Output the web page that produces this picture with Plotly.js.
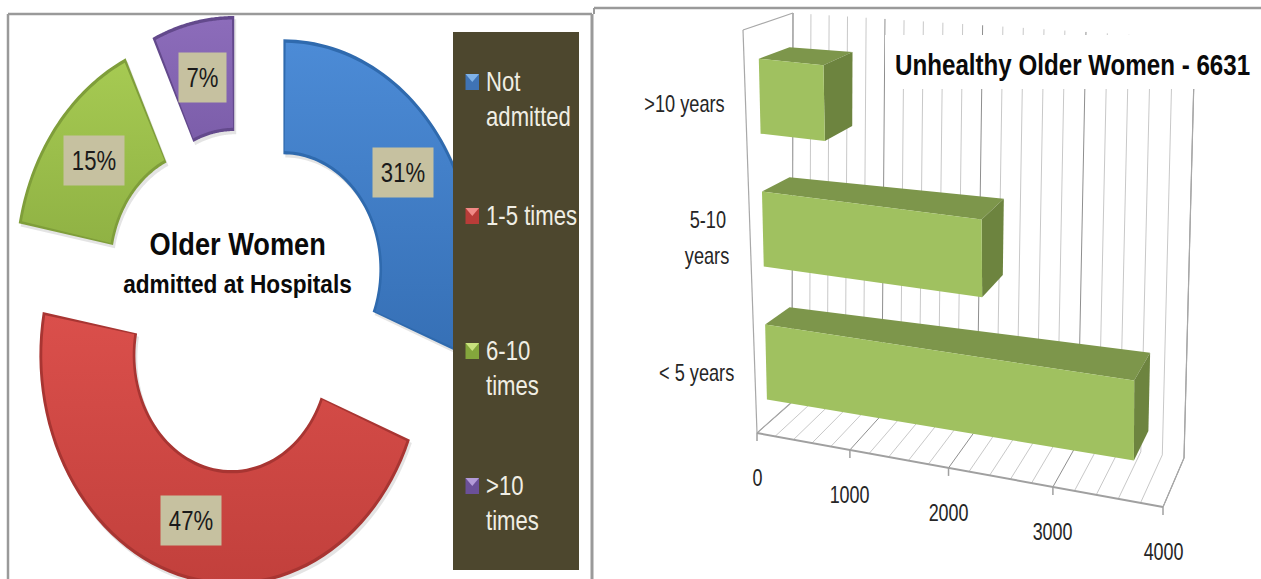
<!DOCTYPE html>
<html>
<head>
<meta charset="utf-8">
<script src="https://cdn.plot.ly/plotly-3.0.1.min.js"></script>
<style>html,body{margin:0;padding:0;background:#fff}#chart{width:1261px;height:579px}</style>
</head>
<body>
<div id="chart"></div>
<script>
// ---- data ----
const admitCategories = ['Not admitted', '1-5 times', '6-10 times', '>10 times'];
const admitLegendLines = [['Not', 'admitted'], ['1-5 times'], ['6-10', 'times'], ['>10', 'times']];
const admitShares = [31, 47, 15, 7];
const yearCategories = ['< 5 years', '5-10 years', '>10 years'];
const yearLabelLines = [['< 5 years'], ['5-10', 'years'], ['>10 years']];
const yearValues = [3680, 2260, 691];
const valueTicks = [0, 1000, 2000, 3000, 4000];
const donutTitle = ['Older Women', 'admitted at Hospitals'];
const barTitle = 'Unhealthy Older Women - 6631';

// ---- styles ----
const FONT = '"Liberation Sans",Arial,sans-serif';
const sliceColors = [
  {edge:'#2F6AAE', top:'#4C8BD6', bot:'#3670B6', sw:'#3F73B5', hi:'#7FB2E8'},
  {edge:'#A83532', top:'#DA4F4B', bot:'#C2403C', sw:'#B93C38', hi:'#F08A86'},
  {edge:'#7F9E3A', top:'#A6CA52', bot:'#90B244', sw:'#84A63C', hi:'#C9E27E'},
  {edge:'#63498C', top:'#8C6CBA', bot:'#7C5EAA', sw:'#6B5099', hi:'#B39BD8'}
];
const W = 1261, H = 579;

// ---- donut geometry (units: outer radius = 1 on its own axes) ----
const CX = 244.5, CY = 301, RX = 192, RY = 230, HOLE = 0.5, PULL = 0.245;
const total = admitShares.reduce((a, b) => a + b, 0);
const traces = [];
const annotations = [];
const annStretch = [];
const shapes = [];
function addText(ann, stretch) { annotations.push(ann); annStretch.push(stretch); }

function arcPoly(a0, a1, r0, r1, ox, oy) {
  const xs = [], ys = [], n = 60;
  for (let i = 0; i <= n; i++) {
    const a = a0 + (a1 - a0) * i / n;
    xs.push(ox + r1 * Math.sin(a)); ys.push(oy + r1 * Math.cos(a));
  }
  for (let i = n; i >= 0; i--) {
    const a = a0 + (a1 - a0) * i / n;
    xs.push(ox + r0 * Math.sin(a)); ys.push(oy + r0 * Math.cos(a));
  }
  xs.push(xs[0]); ys.push(ys[0]);
  return {xs, ys};
}

let cum = 0;
admitShares.forEach((v, i) => {
  const a0 = cum / total * 2 * Math.PI;
  cum += v;
  const a1 = cum / total * 2 * Math.PI;
  const mid = (a0 + a1) / 2;
  const ox = PULL * Math.sin(mid), oy = PULL * Math.cos(mid);
  const c = sliceColors[i];
  const shadow = arcPoly(a0, a1, HOLE, 1, ox + 0.01, oy - 0.014);
  traces.push({x: shadow.xs, y: shadow.ys, xaxis: 'x', yaxis: 'y', mode: 'none', fill: 'toself',
    fillcolor: 'rgba(120,120,120,0.2)', hoverinfo: 'skip', showlegend: false});
  const outer = arcPoly(a0, a1, HOLE, 1, ox, oy);
  traces.push({x: outer.xs, y: outer.ys, xaxis: 'x', yaxis: 'y', mode: 'none', fill: 'toself',
    fillcolor: c.edge, name: admitCategories[i], hoverinfo: 'name', showlegend: false});
  const inset = arcPoly(a0 + 0.012, a1 - 0.012, HOLE + 0.014, 0.985, ox, oy);
  traces.push({x: inset.xs, y: inset.ys, xaxis: 'x', yaxis: 'y', mode: 'none', fill: 'toself',
    fillcolor: c.top,
    fillgradient: {type: 'vertical', colorscale: [[0, c.bot], [1, c.top]]},
    hoverinfo: 'skip', showlegend: false});
  addText({
    xref: 'x', yref: 'y', x: ox + 0.75 * Math.sin(mid), y: oy + 0.75 * Math.cos(mid),
    xanchor: 'center', yanchor: 'middle',
    text: Math.round(v / total * 100) + '%', showarrow: false,
    width: i === 3 ? 47 : 60, height: 49, bgcolor: '#C6C1A0', borderpad: 0, valign: 'middle',
    font: {family: FONT, size: 28, color: '#1A1A1A'}
  }, 0.79);
});

// paper helpers for page-pixel layout items
const px = x => x / W, py = y => 1 - y / H;

// donut centre title
addText({xref: 'paper', yref: 'paper', x: px(237), y: py(244), xanchor: 'center', yanchor: 'middle',
  text: '<b>' + donutTitle[0] + '</b>', showarrow: false, font: {family: FONT, size: 32, color: '#0A0A0A'}}, 0.85);
addText({xref: 'paper', yref: 'paper', x: px(237), y: py(284), xanchor: 'center', yanchor: 'middle',
  text: '<b>' + donutTitle[1] + '</b>', showarrow: false, font: {family: FONT, size: 26, color: '#0A0A0A'}}, 0.87);

// legend panel
shapes.push({type: 'rect', xref: 'paper', yref: 'paper', x0: px(453), x1: px(579), y0: py(32), y1: py(570),
  fillcolor: '#4D472E', line: {width: 0}, layer: 'above'});
const legendTops = [82, 216, 351, 486];
admitLegendLines.forEach((lines, i) => {
  const y = legendTops[i];
  shapes.push({type: 'rect', xref: 'paper', yref: 'paper', x0: px(465.5), x1: px(479), y0: py(y - 8), y1: py(y + 8),
    fillcolor: sliceColors[i].sw, line: {width: 0}, layer: 'above'});
  shapes.push({type: 'path', xref: 'paper', yref: 'paper',
    path: 'M' + px(465.5) + ',' + py(y - 8) + ' L' + px(479) + ',' + py(y - 8) + ' L' + px(472.25) + ',' + py(y) + ' Z',
    fillcolor: sliceColors[i].hi, line: {width: 0}, layer: 'above'});
  lines.forEach((t, j) => addText({xref: 'paper', yref: 'paper', xanchor: 'left', yanchor: 'middle',
    x: px(484), y: py(y + j * 35), text: t, showarrow: false,
    font: {family: FONT, size: 27, color: '#F0EEE4'}}, 0.82));
});

// ---- pseudo-3D projection for the bar panel (value, depth 0..1, height 0..1) -> page px ----
const VMAX = 4000;
const corners = {
  bf: [[757, 433], [1163, 507]],
  bb: [[792, 402], [1184, 458]],
  tb: [[793, 13], [1195, 39]],
  tf: [[743, 30], [1162, 76]]
};
function lerp(p, q, t) { return [p[0] + (q[0] - p[0]) * t, p[1] + (q[1] - p[1]) * t]; }
function P(v, d, h) {
  const t = v / VMAX, w = t * (0.887 + 0.113 * t);
  const bottom = lerp(lerp(corners.bf[0], corners.bf[1], w), lerp(corners.bb[0], corners.bb[1], w), d);
  const top = lerp(lerp(corners.tf[0], corners.tf[1], w), lerp(corners.tb[0], corners.tb[1], w), d);
  return lerp(bottom, top, h);
}
function segs(list) {
  const x = [], y = [];
  list.forEach(s => { x.push(s[0][0], s[1][0], null); y.push(s[0][1], s[1][1], null); });
  return {x, y};
}
function lineTrace(list, color, width) {
  const s = segs(list);
  return {x: s.x, y: s.y, xaxis: 'x2', yaxis: 'y2', mode: 'lines', line: {color, width},
    hoverinfo: 'skip', showlegend: false};
}

const minor = [], major = [];
for (let v = 0; v <= VMAX; v += 200) {
  const bucket = v % 1000 === 0 ? major : minor;
  bucket.push([P(v, 1, 0), P(v, 1, 1)]);
  bucket.push([P(v, 0, 0), P(v, 1, 0)]);
}
traces.push(lineTrace(minor, '#C8C8C8', 1));
traces.push(lineTrace(major, '#8E8E8E', 1));
traces.push(lineTrace([
  [P(0, 0, 0), P(0, 0, 1)], [P(0, 0, 1), P(0, 1, 1)], [P(0, 1, 0), P(0, 1, 1)], [P(0, 0, 0), P(0, 1, 0)],
  [P(VMAX, 0, 0), P(VMAX, 1, 0)], [P(VMAX, 1, 0), P(VMAX, 1, 1)]
], '#A8A8A8', 1.2));
traces.push(lineTrace([[P(0, 0, 0), P(VMAX, 0, 0)]], '#A0A0A0', 2));
traces.push(lineTrace(valueTicks.map(v => {
  const p = P(v, 0, 0);
  return [p, [p[0], p[1] + 8]];
}), '#A0A0A0', 1.5));

// bars
const D0 = 0.3, D1 = 0.93, HALF = 0.094;
const hCentre = i => (i + 0.5) / 3 - 0.012;
function face(pts, color, name) {
  const xs = pts.map(p => p[0]), ys = pts.map(p => p[1]);
  xs.push(xs[0]); ys.push(ys[0]);
  return {x: xs, y: ys, xaxis: 'x2', yaxis: 'y2', mode: 'none', fill: 'toself', fillcolor: color,
    hoverinfo: name ? 'name' : 'skip', name: name || '', showlegend: false};
}
yearValues.forEach((v, i) => {
  const h0 = hCentre(i) - HALF, h1 = hCentre(i) + HALF;
  traces.push(face([P(0, D0, h1), P(0, D1, h1), P(v, D1, h1), P(v, D0, h1)], '#7D964B'));
  traces.push(face([P(v, D0, h0), P(v, D0, h1), P(v, D1, h1), P(v, D1, h0)], '#6D843F'));
  traces.push(face([P(0, D0, h0), P(0, D0, h1), P(v, D0, h1), P(v, D0, h0)], '#A0C160', yearCategories[i]));
});

// value tick labels
valueTicks.forEach(v => {
  const p = P(v, 0, 0);
  addText({xref: 'x2', yref: 'y2', x: p[0], y: p[1] + 45, xanchor: 'center', yanchor: 'middle',
    text: String(v), showarrow: false, font: {family: FONT, size: 23, color: '#262626'}}, 0.78);
});
// category labels
yearLabelLines.forEach((lines, i) => {
  const p = P(0, 0, hCentre(i));
  lines.forEach((t, j) => addText({
    xref: 'x2', yref: 'y2', xanchor: 'right', yanchor: 'middle', x: p[0] - 19 + (lines.length > 1 ? j * 3 - 3 : 0),
    y: p[1] + 2 + (j - (lines.length - 1) / 2) * 36, text: t, showarrow: false,
    font: {family: FONT, size: 23, color: '#262626'}
  }, 0.79));
});
// bar panel title on its white plate
shapes.push({type: 'rect', xref: 'x2', yref: 'y2', x0: 885, x1: 1256, y0: 35, y1: 89,
  fillcolor: '#FFFFFF', line: {width: 0}, layer: 'above'});
addText({xref: 'x2', yref: 'y2', x: 1072, y: 64, xanchor: 'center', yanchor: 'middle',
  text: '<b>' + barTitle + '</b>', showarrow: false,
  font: {family: FONT, size: 30, color: '#0A0A0A'}}, 0.805);

// panel frames
function frameLine(x0, y0, x1, y1, color, width) {
  shapes.push({type: 'line', xref: 'paper', yref: 'paper', x0: px(x0), x1: px(x1), y0: py(y0), y1: py(y1),
    line: {color, width}, layer: 'above'});
}
frameLine(8, 14, 592, 14, '#9A9A9A', 2.5);
frameLine(8, 14, 8, 579, '#9A9A9A', 2.5);
frameLine(592, 14, 592, 579, '#9A9A9A', 3);
frameLine(594, 8, 1261, 8, '#9A9A9A', 2.5);
frameLine(594, 8, 594, 14, '#9A9A9A', 2);

const hidden = {visible: false, fixedrange: true};
const layout = {
  width: W, height: H, margin: {l: 0, r: 0, t: 0, b: 0}, paper_bgcolor: '#FFFFFF', plot_bgcolor: 'rgba(0,0,0,0)',
  showlegend: false,
  xaxis: Object.assign({domain: [0, 592 / W], range: [(0 - CX) / RX, (592 - CX) / RX]}, hidden),
  yaxis: Object.assign({domain: [0, 1], range: [(CY - H) / RY, CY / RY]}, hidden),
  xaxis2: Object.assign({domain: [594 / W, 1], range: [594, W], anchor: 'y2'}, hidden),
  yaxis2: Object.assign({domain: [0, 1], range: [H, 0], anchor: 'x2'}, hidden),
  shapes, annotations
};
// the reference lettering is horizontally condensed: narrow each real text element in place
function condenseText() {
  document.querySelectorAll('#chart .annotation').forEach(g => {
    const i = +g.getAttribute('data-index');
    const t = g.querySelector('.annotation-text');
    if (!t || !annStretch[i]) return;
    const anchor = annotations[i].xanchor;
    t.style.transformBox = 'fill-box';
    t.style.transformOrigin = (anchor === 'left' ? '0%' : anchor === 'right' ? '100%' : '50%') + ' 50%';
    t.style.transform = 'scaleX(' + annStretch[i] + ')';
  });
}
Plotly.newPlot('chart', traces, layout, {displayModeBar: false, staticPlot: true}).then(condenseText);
</script>
</body>
</html>
